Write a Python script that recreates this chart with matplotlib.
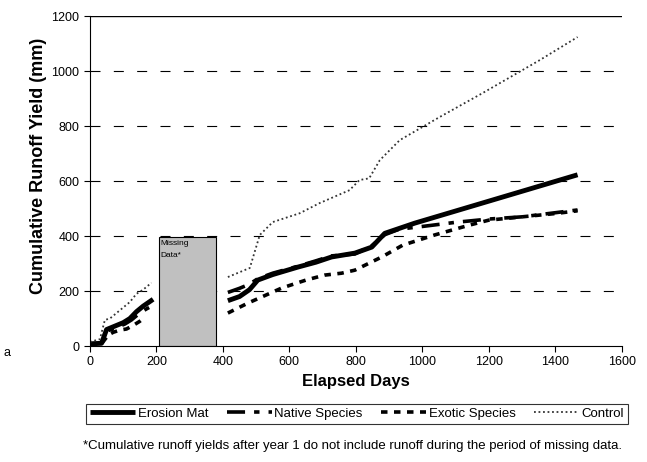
import numpy as np
import matplotlib.pyplot as plt

plt.rcParams['font.family'] = ['Liberation Sans', 'DejaVu Sans']

# year 1 (before the missing period)
mat_d1 = [0, 35, 50, 60, 80, 100, 120, 140, 160, 190]
mat_y1 = [8, 10, 60, 65, 75, 85, 100, 125, 145, 170]
nat_d1 = [0, 35, 50, 65, 85, 105, 125, 150, 170, 190]
nat_y1 = [8, 10, 55, 60, 70, 80, 95, 120, 135, 148]
exo_d1 = [0, 35, 55, 70, 90, 110, 130, 150, 165]
exo_y1 = [5, 8, 40, 50, 58, 62, 75, 90, 105]
ctl_d1 = [0, 30, 45, 60, 80, 100, 120, 140, 160, 185]
ctl_y1 = [15, 25, 95, 100, 120, 140, 160, 190, 205, 230]

# after the missing period
mat_d2 = [415, 450, 480, 505, 550, 625, 680, 727, 797, 848, 887, 977, 1467]
mat_y2 = [165, 180, 205, 240, 260, 287, 305, 324, 338, 360, 410, 447, 623]
nat_d2 = [415, 450, 480, 505, 550, 625, 680, 727, 797, 848, 887, 930, 1000, 1100, 1200, 1300, 1400, 1467]
nat_y2 = [195, 210, 225, 245, 265, 290, 310, 328, 335, 365, 405, 425, 435, 450, 462, 470, 485, 495]
exo_d2 = [415, 475, 577, 650, 706, 757, 797, 878, 941, 1037, 1142, 1200, 1300, 1400, 1467]
exo_y2 = [120, 156, 211, 240, 258, 265, 276, 324, 367, 404, 440, 458, 470, 482, 492]
ctl_d2 = [415, 481, 511, 550, 631, 691, 781, 811, 840, 872, 932, 1052, 1181, 1353, 1467]
ctl_y2 = [251, 284, 404, 451, 483, 520, 567, 604, 610, 676, 749, 833, 920, 1040, 1124]

gap_start, gap_end, gap_top = 207, 379, 395

fig = plt.figure(figsize=(6.47, 4.62), dpi=100)
ax = fig.add_axes([0.139, 0.251, 0.822, 0.714])

ax.set_xlim(0, 1600)
ax.set_ylim(0, 1200)
ax.set_xticks(np.arange(0, 1601, 200))
ax.set_yticks(np.arange(0, 1201, 200))
ax.tick_params(labelsize=9, direction='out', length=4)
for y in np.arange(200, 1001, 200):
    ax.axhline(y, color='black', lw=0.8, ls=(0, (9, 12)), zorder=0)
ax.axhline(1200, color='black', lw=1.0, zorder=0)
ax.spines['top'].set_visible(False)
ax.spines['right'].set_visible(False)

ax.bar(gap_start, gap_top, width=gap_end - gap_start, align='edge',
       color='#c0c0c0', edgecolor='black', lw=0.8, zorder=2)
ax.text(gap_start + 5, gap_top - 8, 'Missing\nData*', fontsize=6, va='top', ha='left',
        linespacing=2.1, zorder=3)

styles = {
    'mat': dict(color='black', lw=3.5, ls='-', solid_capstyle='butt'),
    'nat': dict(color='black', lw=2.6, ls=(0, (5, 2.5, 1.5, 2.5))),
    'exo': dict(color='black', lw=2.6, ls=(0, (1.8, 1.8))),
    'ctl': dict(color='#333333', lw=1.3, ls=(0, (1, 1.5))),
}

ax.plot(mat_d1, mat_y1, **styles['mat'], label='Erosion Mat')
ax.plot(mat_d2, mat_y2, **styles['mat'])
ax.plot(nat_d1, nat_y1, **styles['nat'], label='Native Species')
ax.plot(nat_d2, nat_y2, **styles['nat'])
ax.plot(exo_d1, exo_y1, **styles['exo'], label='Exotic Species')
ax.plot(exo_d2, exo_y2, **styles['exo'])
ax.plot(ctl_d1, ctl_y1, **styles['ctl'], label='Control')
ax.plot(ctl_d2, ctl_y2, **styles['ctl'])

ax.set_xlabel('Elapsed Days', fontsize=12, fontweight='bold', labelpad=4)
ax.set_ylabel('Cumulative Runoff Yield (mm)', fontsize=13, fontweight='bold')
ax.yaxis.set_label_coords(-0.08, 0.545)

leg = fig.legend(loc='center', bbox_to_anchor=(0.552, 0.104), ncol=4, fontsize=9.5,
                 frameon=True, fancybox=False, edgecolor='black', handlelength=3.4,
                 handletextpad=0.2, columnspacing=1.4, borderpad=0.3)
leg.get_frame().set_linewidth(0.8)

fig.text(0.961, 0.022, '*Cumulative runoff yields after year 1 do not include runoff during the period of missing data.',
         fontsize=9.5, ha='right', va='bottom')
fig.text(0.005, 0.235, 'a', fontsize=9, ha='left', va='center')

fig.savefig('out.png', dpi=100)
